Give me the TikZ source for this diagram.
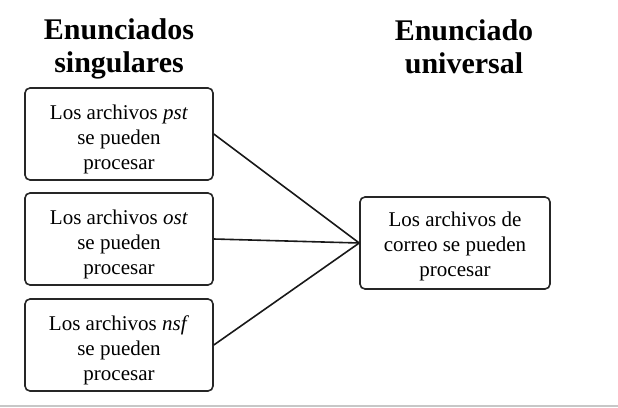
\documentclass[tikz,border=0pt]{standalone}
\usepackage{fontspec}
\setmainfont{Liberation Serif}
\begin{document}
\begin{tikzpicture}[x=1pt,y=-1pt,
  box/.style={draw=black!85, line width=1.6pt, rounded corners=5pt, minimum width=188pt, minimum height=92pt, inner sep=0pt},
  txt/.style={align=center, inner sep=0pt, font=\fontsize{21}{25}\selectfont},
  title/.style={align=center, inner sep=0pt, font=\fontsize{30}{32.5}\selectfont\bfseries},
  link/.style={line width=1.6pt, draw=black!90}]
\useasboundingbox (0,0) rectangle (618,407);
\fill[white] (0,0) rectangle (618,407);
\fill[black!22] (0,405) rectangle (618,407);
\node[title] (t1) at (119,49) {Enunciados\\singulares};
\node[title] (t2) at (464,47) {Enunciado\\universal};
\node[box] (b1) at (119,134) {};
\node[box] (b2) at (119,239) {};
\node[box] (b3) at (119,345) {};
\node[box, minimum width=190pt] (u) at (455,243) {};
\node[txt] (s1) at ([yshift=-5pt]b1.center) {Los archivos \textit{pst}\\se pueden\\procesar};
\node[txt] (s2) at ([yshift=-5pt]b2.center) {Los archivos \textit{ost}\\se pueden\\procesar};
\node[txt] (s3) at ([yshift=-5pt]b3.center) {Los archivos \textit{nsf}\\se pueden\\procesar};
\node[txt] (su) at ([yshift=-3pt]u.center) {Los archivos de\\correo se pueden\\procesar};
\coordinate (m) at (u.west);
\draw[link] (b1.east) -- (m);
\draw[link] (b2.east) -- (m);
\draw[link] (b3.east) -- (m);
\end{tikzpicture}
\end{document}
